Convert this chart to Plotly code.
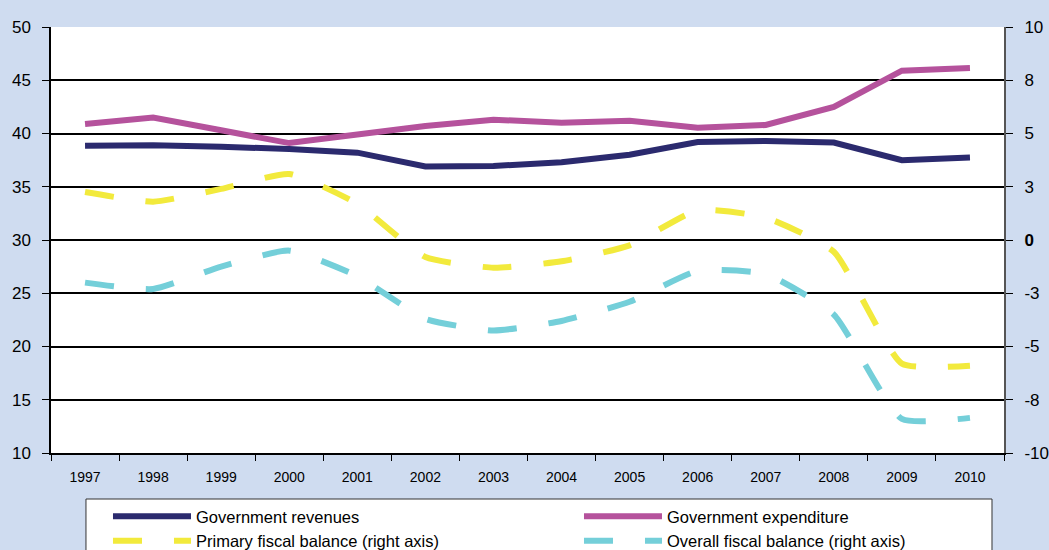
import plotly.graph_objects as go

years = ["1997", "1998", "1999", "2000", "2001", "2002", "2003", "2004",
         "2005", "2006", "2007", "2008", "2009", "2010"]
revenues = [38.85, 38.9, 38.75, 38.55, 38.2, 36.9, 36.95, 37.3, 38.0, 39.2, 39.3, 39.15, 37.5, 37.75]
expenditure = [40.9, 41.5, 40.3, 39.1, 39.9, 40.7, 41.3, 41.0, 41.2, 40.55, 40.8, 42.5, 45.9, 46.15]
primary_balance = [2.25, 1.8, 2.4, 3.1, 1.7, -0.8, -1.3, -1.0, -0.25, 1.4, 1.05, -0.55, -5.8, -5.9]
overall_balance = [-2.0, -2.3, -1.25, -0.5, -1.7, -3.7, -4.25, -3.8, -2.9, -1.45, -1.6, -3.5, -8.4, -8.35]

left_ticks = [10, 15, 20, 25, 30, 35, 40, 45, 50]
right_tickvals = [-10, -7.5, -5, -2.5, 0, 2.5, 5, 7.5, 10]
right_ticktext = ["-10", "-8", "-5", "-3", "<b>0</b>", "3", "5", "8", "10"]

names = ["Government revenues", "Government expenditure",
         "Primary fiscal balance (right axis)", "Overall fiscal balance (right axis)"]

NAVY = "#2b2a6e"
PINK = "#b5529c"
YELLOW = "#f2ea3c"
CYAN = "#74cfd9"
BG = "#cfdcf0"
FONT = "Arial, Liberation Sans, sans-serif"

fig = go.Figure()
fig.add_trace(go.Scatter(x=years, y=revenues, name=names[0], mode="lines",
                         line=dict(color=NAVY, width=6)))
fig.add_trace(go.Scatter(x=years, y=expenditure, name=names[1], mode="lines",
                         line=dict(color=PINK, width=6)))
fig.add_trace(go.Scatter(x=years, y=primary_balance, name=names[2], mode="lines", yaxis="y2",
                         line=dict(color=YELLOW, width=6, dash="29px,32px",
                                   shape="spline", smoothing=0.5)))
fig.add_trace(go.Scatter(x=years, y=overall_balance, name=names[3], mode="lines", yaxis="y2",
                         line=dict(color=CYAN, width=6, dash="29px,32px",
                                   shape="spline", smoothing=0.5)))

# legend frame (decoration, paper coordinates)
fig.add_shape(type="rect", xref="paper", yref="paper",
              x0=0.0367, x1=0.9874, y0=-0.108, y1=-0.35,
              line=dict(color="#333333", width=1), fillcolor="white", layer="below")

fig.update_layout(
    width=1049, height=550,
    paper_bgcolor=BG, plot_bgcolor="white",
    margin=dict(l=51, r=45, t=27, b=97, autoexpand=False),
    font=dict(family=FONT, color="black"),
    xaxis=dict(type="category", range=[-0.5, 13.5], showgrid=False,
               showline=True, linecolor="black", linewidth=1.5,
               ticks="outside", tickson="boundaries", ticklen=6, tickcolor="black",
               tickfont=dict(size=14), ticklabelstandoff=10),
    yaxis=dict(range=[10, 50], tickvals=left_ticks, showgrid=True,
               gridcolor="black", gridwidth=1.5, zeroline=False,
               showline=True, linecolor="black", linewidth=1.5,
               ticks="outside", ticklen=7, tickcolor="black",
               tickfont=dict(size=17), ticklabelstandoff=8),
    yaxis2=dict(range=[-10, 10], overlaying="y", side="right",
                tickvals=right_tickvals, ticktext=right_ticktext, showgrid=False,
                zeroline=False, showline=True, linecolor="#555555", linewidth=2,
                ticks="outside", ticklen=7, tickcolor="black",
                tickfont=dict(size=17), ticklabelstandoff=8),
    showlegend=True,
    legend=dict(orientation="h", x=0.0598, xanchor="left", y=-0.108, yanchor="top",
                bgcolor="rgba(0,0,0,0)", borderwidth=0,
                font=dict(size=16.5), itemwidth=78,
                entrywidth=378, entrywidthmode="pixels", traceorder="normal",
                tracegroupgap=0),
)

fig.write_html("out.html", config={"displayModeBar": False},
               post_script="document.body.style.margin='0';document.body.style.background='%s';" % BG)
